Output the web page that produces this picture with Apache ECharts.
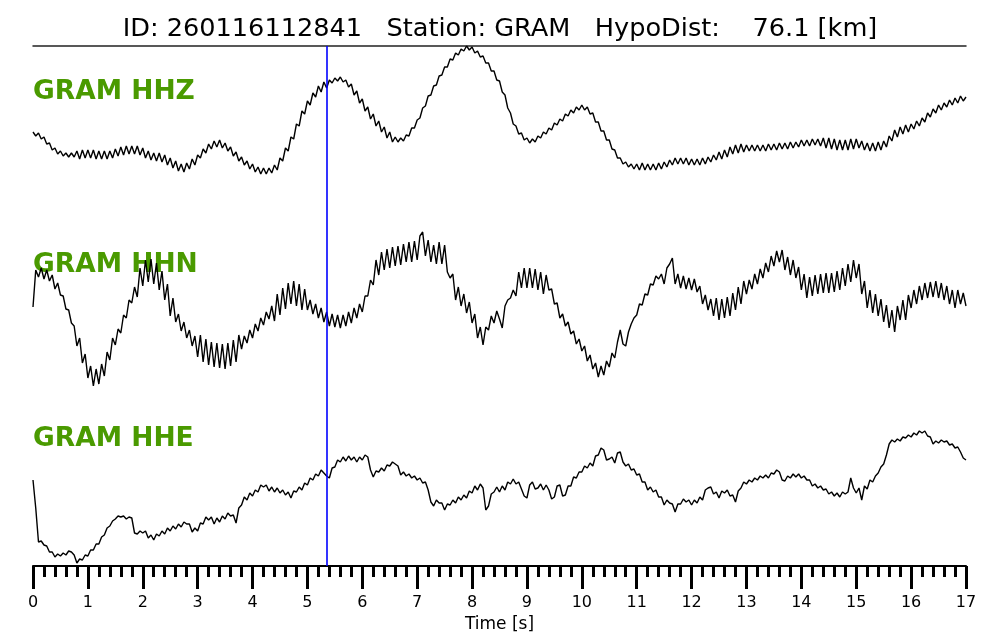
<!DOCTYPE html>
<html>
<head>
<meta charset="utf-8">
<script src="https://cdn.jsdelivr.net/npm/echarts@6/dist/echarts.min.js"></script>
<style>
  html, body { margin: 0; padding: 0; background: #fff; }
  #chart { width: 1000px; height: 640px; }
</style>
</head>
<body>
<div id="chart"></div>
<script>
const xTicks = [0, 1, 2, 3, 4, 5, 6, 7, 8, 9, 10, 11, 12, 13, 14, 15, 16, 17];
const channels = ["GRAM HHZ", "GRAM HHN", "GRAM HHE"];
// P 波到时 (s)
const pickTimes = [5.36];
// 采样间隔 (s)
const dt = 0.05;

/* HHZ 振幅, 每行 1 s */
const ampHHZ = [
  -22, -26, -23, -29, -27, -34, -33, -40, -38, -44, -41, -46, -43, -47, -43, -47, -41, -49, -40, -48,
  -40, -48, -40, -49, -41, -49, -41, -49, -41, -48, -39, -46, -37, -45, -36, -44, -36, -44, -36, -45,
  -38, -48, -41, -50, -43, -51, -43, -52, -45, -55, -48, -58, -51, -61, -54, -62, -53, -59, -49, -55,
  -45, -48, -39, -43, -34, -39, -31, -37, -30, -38, -33, -41, -37, -46, -42, -51, -47, -55, -51, -59,
  -54, -62, -57, -64, -58, -64, -58, -63, -55, -60, -48, -51, -38, -41, -27, -29, -14, -16, -1, -4,
  9, 5, 17, 13, 24, 18, 28, 22, 30, 27, 32, 29, 33, 28, 30, 23, 26, 15, 19, 7,
  11, -1, 3, -9, -4, -16, -11, -22, -17, -28, -22, -32, -27, -32, -28, -31, -25, -26, -18, -18,
  -10, -8, 2, 4, 14, 15, 24, 25, 34, 35, 43, 43, 51, 50, 57, 55, 61, 59, 64, 60,
  63, 57, 59, 53, 54, 47, 47, 39, 39, 30, 29, 18, 15, 2, -3, -14, -16, -24, -23, -30,
  -28, -33, -29, -32, -26, -28, -22, -24, -18, -20, -13, -15, -9, -11, -4, -6, 0, -3, 3, 0,
  5, 0, 3, -4, -3, -12, -12, -21, -21, -30, -30, -39, -40, -48, -48, -54, -52, -57, -54, -59,
  -54, -60, -53, -60, -54, -60, -54, -60, -53, -59, -52, -57, -50, -55, -48, -54, -48, -54, -48, -55,
  -49, -55, -49, -55, -48, -54, -47, -52, -45, -50, -42, -49, -40, -47, -37, -44, -35, -43, -34, -42,
  -35, -41, -35, -41, -35, -41, -35, -41, -34, -40, -34, -40, -33, -39, -33, -39, -32, -38, -32, -37,
  -30, -36, -30, -36, -29, -35, -29, -36, -28, -38, -28, -39, -29, -40, -30, -40, -30, -40, -29, -39,
  -29, -38, -31, -40, -33, -41, -33, -41, -32, -40, -31, -37, -26, -31, -20, -27, -17, -24, -15, -22,
  -14, -19, -11, -16, -8, -12, -3, -7, 1, -3, 5, 0, 7, 3, 10, 5, 12, 7, 14, 9,
  13
];
/* HHN 振幅, 每行 1 s */
const ampHHN = [
  -7, 30, 23, 32, 21, 30, 19, 25, 11, 17, 5, 4, -9, -10, -23, -26, -46, -38, -63, -54,
  -78, -66, -86, -69, -84, -64, -76, -52, -60, -38, -45, -29, -33, -15, -18, 0, -3, 13, 3, 32,
  14, 40, 18, 41, 16, 37, 10, 29, 0, 16, -16, 2, -22, -14, -31, -22, -38, -30, -46, -36,
  -57, -35, -62, -39, -65, -42, -67, -43, -68, -44, -69, -43, -66, -40, -62, -35, -49, -36, -43, -30,
  -38, -24, -31, -18, -25, -12, -19, -6, -21, 6, -15, 12, -9, 17, -4, 19, -6, 16, -10, 11,
  -10, 0, -14, -4, -18, -8, -22, -12, -26, -14, -27, -15, -28, -15, -26, -12, -23, -8, -18, -4,
  -12, 4, 4, 20, 15, 40, 25, 48, 30, 51, 32, 53, 34, 54, 35, 56, 38, 58, 38, 59,
  40, 64, 68, 44, 60, 38, 55, 36, 58, 36, 55, 28, 22, 26, 0, 13, -6, 6, -13, -2,
  -23, -14, -38, -27, -45, -27, -30, -16, -23, -11, -19, -28, -6, 0, 2, 10, 4, 28, 12, 32,
  12, 32, 12, 31, 10, 28, 6, 25, 10, 11, -4, -3, -18, -14, -26, -22, -34, -31, -44, -39,
  -51, -46, -61, -55, -69, -63, -77, -66, -75, -61, -67, -53, -58, -42, -30, -44, -46, -32, -24, -18,
  -15, -4, -5, 6, 5, 16, 15, 24, 21, 26, 16, 32, 36, 42, 16, 26, 12, 24, 11, 22,
  10, 21, 8, 14, -4, 5, -10, 1, -16, 2, -20, 1, -18, 3, -16, 7, -10, 13, -4, 19,
  6, 20, 11, 26, 16, 31, 22, 37, 28, 44, 34, 49, 38, 50, 30, 43, 25, 40, 22, 33,
  10, 26, 2, 23, 4, 25, 6, 26, 7, 27, 7, 27, 8, 29, 10, 32, 14, 36, 18, 40,
  22, 36, 6, 19, -8, 10, -13, 6, -16, 1, -22, -5, -28, -10, -32, -6, -20, 0, -20, 5,
  -8, 10, -4, 14, 0, 17, 2, 18, 3, 19, 2, 17, 0, 14, -4, 10, -8, 10, -4, 7,
  -6
];
/* HHE 振幅, 每行 1 s */
const ampHHE = [
  20, -8, -42, -41, -45, -46, -52, -52, -57, -54, -56, -53, -55, -51, -52, -55, -63, -59, -60, -55,
  -56, -50, -50, -44, -44, -37, -35, -28, -26, -21, -19, -16, -17, -16, -19, -17, -18, -33, -34, -31,
  -33, -31, -38, -35, -40, -34, -36, -31, -34, -28, -31, -26, -29, -24, -27, -22, -24, -24, -32, -28,
  -31, -23, -24, -17, -20, -17, -24, -18, -22, -16, -19, -13, -16, -15, -23, -8, -5, 3, 0, 7,
  4, 10, 8, 15, 13, 15, 9, 13, 8, 12, 7, 10, 5, 8, 2, 9, 8, 13, 10, 17,
  15, 22, 20, 26, 24, 30, 27, 24, 22, 32, 33, 40, 38, 43, 39, 44, 40, 43, 38, 43,
  40, 45, 43, 30, 23, 29, 28, 32, 29, 35, 34, 38, 36, 34, 25, 28, 24, 26, 22, 24,
  20, 22, 17, 18, 10, -2, -6, 0, -3, -3, -10, -4, -5, 0, -3, 3, 0, 5, 2, 9,
  7, 14, 10, 16, 12, -10, -6, 6, 8, 13, 8, 14, 10, 18, 16, 21, 16, 18, 11, 4,
  2, 15, 18, 11, 12, 16, 10, 15, 10, 1, 3, 14, 15, 4, 5, 14, 14, 23, 22, 28,
  28, 34, 32, 37, 34, 44, 45, 52, 50, 40, 41, 43, 37, 47, 48, 38, 34, 36, 30, 31,
  25, 26, 18, 18, 10, 13, 8, 10, 3, 3, -5, 0, -3, -4, -12, -4, -4, 1, -2, 0,
  -5, 0, -3, 3, 0, 10, 12, 13, 6, 8, 2, 9, 7, 10, 4, 5, -2, 9, 12, 18,
  16, 20, 18, 22, 20, 24, 22, 25, 22, 27, 26, 30, 28, 20, 19, 24, 22, 26, 23, 26,
  22, 24, 20, 20, 14, 16, 12, 14, 10, 11, 6, 8, 4, 7, 3, 8, 6, 8, 22, 12,
  7, 12, 0, 14, 11, 20, 18, 24, 27, 33, 36, 45, 56, 60, 58, 61, 59, 63, 62, 65,
  63, 67, 65, 69, 67, 69, 64, 63, 56, 59, 57, 60, 58, 59, 55, 56, 52, 53, 48, 42,
  40
];

// 每道的基线位置 (y 轴坐标)
const offsets = [456, 266, 66];
const labelTops = [91, 264, 438];
const traces = [ampHHZ, ampHHN, ampHHE];

let myChart = echarts.init(document.getElementById("chart"));

let series = traces.map((amp, k) => ({
  type: "line",
  name: channels[k],
  symbol: "none",
  lineStyle: { color: "#000", width: 1.4 },
  data: amp.map((v, i) => [Math.round(i * dt * 100) / 100, offsets[k] + v]),
}));
series[0].markLine = {
  symbol: "none",
  silent: true,
  label: { show: false },
  lineStyle: { color: "#0000ff", width: 1.6, type: "solid" },
  data: pickTimes.map((t) => ({ xAxis: t })),
};

let option = {
  animation: false,
  backgroundColor: "#fff",
  textStyle: { fontFamily: "DejaVu Sans" },
  title: {
    text: "ID: 260116112841   Station: GRAM   HypoDist:    76.1 [km]",
    left: "center",
    top: 11,
    textStyle: { fontSize: 25.6, fontWeight: "normal", color: "#000", fontFamily: "DejaVu Sans" },
  },
  graphic: channels.map((name, k) => ({
    type: "text",
    left: 33,
    top: labelTops[k] - 12,
    style: {
      text: name,
      fill: "#4a9a00",
      font: "bold 26.5px 'DejaVu Sans'",
    },
  })),
  grid: { left: 33, right: 34, top: 46, bottom: 74 },
  xAxis: [
    {
      type: "value",
      min: 0,
      max: 17,
      interval: 1,
      name: "Time [s]",
      nameLocation: "middle",
      nameGap: 40,
      nameTextStyle: { fontSize: 17, color: "#000" },
      axisLine: { lineStyle: { color: "#000", width: 2 } },
      axisTick: { length: 23, lineStyle: { color: "#000", width: 3 } },
      minorTick: { show: true, splitNumber: 5, length: 11, lineStyle: { color: "#000", width: 3 } },
      axisLabel: {
        fontSize: 16,
        color: "#000",
        margin: 29,
        formatter: (v) => (xTicks.indexOf(v) >= 0 ? String(v) : ""),
      },
      splitLine: { show: false },
    },
    {
      type: "value",
      position: "top",
      min: 0,
      max: 17,
      axisLine: { lineStyle: { color: "#222", width: 1.5 } },
      axisTick: { show: false },
      axisLabel: { show: false },
      splitLine: { show: false },
    },
  ],
  yAxis: {
    type: "value",
    min: 0,
    max: 520,
    show: false,
  },
  series: series,
};

myChart.setOption(option);
</script>
</body>
</html>
